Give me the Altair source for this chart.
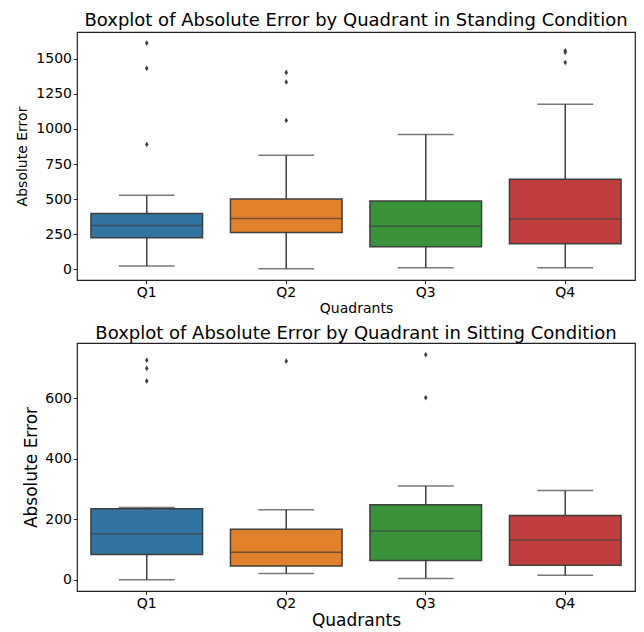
import altair as alt
import pandas as pd

quadrants = ["Q1", "Q2", "Q3", "Q4"]
colors = ["#3274a1", "#e1812c", "#3a923a", "#c03d3e"]

# Standing condition summary
st_low = [23, 4, 11, 11]
st_q1 = [224, 263, 160, 182]
st_med = [312, 362, 307, 359]
st_q3 = [398, 501, 487, 641]
st_high = [527, 813, 960, 1175]
st_out_q = ["Q1", "Q1", "Q1", "Q2", "Q2", "Q2", "Q4", "Q4", "Q4"]
st_out_v = [1611, 1431, 889, 1402, 1334, 1060, 1556, 1545, 1473]

# Sitting condition summary
si_low = [0, 21, 4, 15]
si_q1 = [84, 46, 64, 48]
si_med = [152, 91, 161, 132]
si_q3 = [235, 167, 248, 213]
si_high = [239, 232, 310, 295]
si_out_q = ["Q1", "Q1", "Q1", "Q2", "Q3", "Q3"]
si_out_v = [726, 699, 657, 723, 744, 602]

FONT = "DejaVu Sans"
LINE = "#3f3f3f"
W, H = 558, 248
BAND = W / 4
DIAMOND = "M0,-1L0.62,0L0,1L-0.62,0Z"


def panel(low, q1, med, q3, high, out_q, out_v, domain, ticks, title, title_size, toff, ytp):
    df = pd.DataFrame({"q": quadrants, "low": low, "q1": q1, "med": med,
                       "q3": q3, "high": high})
    od = pd.DataFrame({"q": out_q, "v": out_v})
    x = alt.X("q:N", sort=quadrants, title="Quadrants",
              scale=alt.Scale(paddingInner=0, paddingOuter=0),
              axis=alt.Axis(labelAngle=0, labelFontSize=14, titleFontSize=title_size,
                            labelFont=FONT, titleFont=FONT, titleFontWeight="normal",
                            domain=False, tickColor="#222", tickSize=3.5, labelPadding=2,
                            titlePadding=2, labelColor="#000", titleColor="#000"))
    yscale = alt.Scale(domain=domain, nice=False, zero=False)
    yaxis = alt.Axis(values=ticks, format="d", grid=False, domain=False, labelFontSize=14,
                     titleFontSize=title_size, labelFont=FONT, titleFont=FONT,
                     titleFontWeight="normal", tickColor="#222", tickSize=3.5,
                     labelPadding=2, titlePadding=ytp, labelColor="#000", titleColor="#000")
    color = alt.Color("q:N", scale=alt.Scale(domain=quadrants, range=colors), legend=None)
    base = alt.Chart(df)
    whisk = base.mark_rule(color=LINE, strokeWidth=1.5).encode(
        x=x, y=alt.Y("low:Q", scale=yscale, axis=yaxis, title="Absolute Error"), y2="high:Q")
    box = base.mark_bar(size=0.8 * BAND, stroke=LINE, strokeWidth=1.5).encode(
        x=x, y=alt.Y("q1:Q", scale=yscale), y2="q3:Q", color=color)
    medt = base.mark_tick(size=0.8 * BAND, thickness=1.5, color=LINE).encode(
        x=x, y=alt.Y("med:Q", scale=yscale))
    capl = base.mark_tick(size=0.4 * BAND, thickness=1.5, color=LINE).encode(
        x=x, y=alt.Y("low:Q", scale=yscale))
    caph = base.mark_tick(size=0.4 * BAND, thickness=1.5, color=LINE).encode(
        x=x, y=alt.Y("high:Q", scale=yscale))
    outl = alt.Chart(od).mark_point(shape=DIAMOND, size=32, filled=True, color=LINE,
                                    opacity=1).encode(
        x=x, y=alt.Y("v:Q", scale=yscale))
    return alt.layer(whisk, box, medt, capl, caph, outl).properties(
        width=W, height=H,
        title=alt.TitleParams(title, fontSize=18, font=FONT, fontWeight="normal",
                              anchor="middle", color="#000", offset=toff))


top = panel(st_low, st_q1, st_med, st_q3, st_high, st_out_q, st_out_v,
            [-76, 1690], [0, 250, 500, 750, 1000, 1250, 1500],
            "Boxplot of Absolute Error by Quadrant in Standing Condition", 14, 2, 6)
bottom = panel(si_low, si_q1, si_med, si_q3, si_high, si_out_q, si_out_v,
               [-37, 783], [0, 200, 400, 600],
               "Boxplot of Absolute Error by Quadrant in Sitting Condition", 17, 0, 4)

chart = alt.vconcat(top, bottom, spacing=7).properties(
    padding={"left": 15, "top": 11, "right": 5, "bottom": 0}
).configure(background="white").configure_view(stroke="#222", strokeWidth=1.2)

chart.save("out.html", embed_options={"renderer": "svg", "actions": False})
